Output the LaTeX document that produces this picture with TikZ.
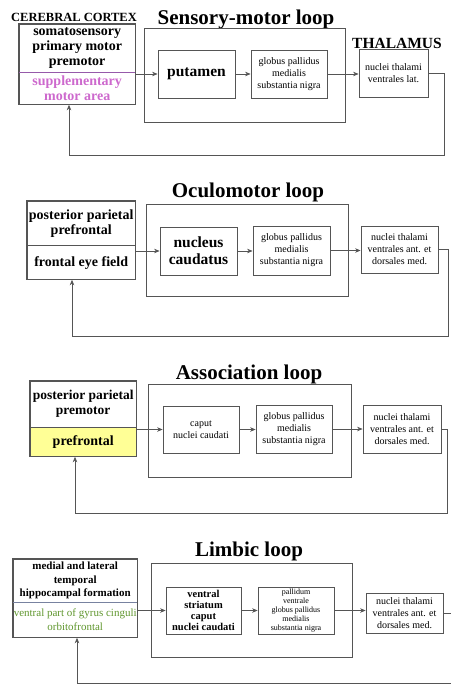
\documentclass[tikz,border=0pt]{standalone}
\usepackage{fontspec}
\setmainfont{Liberation Serif}
\usetikzlibrary{positioning,arrows.meta}

\definecolor{gris}{RGB}{85,85,85}
\definecolor{rosa}{RGB}{205,105,205}
\definecolor{lila}{RGB}{150,90,170}
\definecolor{verde}{RGB}{95,150,45}
\definecolor{azulgris}{RGB}{120,130,160}
\definecolor{amarillo}{RGB}{255,255,150}

\tikzset{
    titulo/.style={font=\bfseries\fontsize{21}{24}\selectfont},
    rotulo/.style={font=\bfseries\fontsize{12.5}{14}\selectfont},
    corteza/.style={inner sep=0pt,align=center,font=\bfseries\fontsize{14}{15}\selectfont},
    marco/.style={draw=gris,line width=1.3pt},
    ganglios/.style={draw=gris,line width=0.9pt,inner sep=0pt},
    nucleo/.style={draw=gris,line width=0.8pt,inner sep=1pt,align=center,font=\bfseries\fontsize{15.5}{17}\selectfont},
    chico/.style={draw=gris,line width=0.8pt,inner sep=1pt,align=center,font=\fontsize{10}{12}\selectfont},
    flecha/.style={draw=gris,line width=0.6pt,-{Stealth[length=5.5pt,width=4.5pt]}},
}

\begin{document}
\begin{tikzpicture}[x=1pt,y=-1pt]
\useasboundingbox (0,0) rectangle (450,687);

    %Lazo sensitivo-motor
    \node[titulo] (sm-tit) at (246,19) {Sensory-motor loop};
    \node[rotulo] (sm-cc) at (74,17) {CEREBRAL CORTEX};
    \node[corteza,minimum width=116pt,minimum height=48pt,anchor=north west] (sm-ctxa) at (19,24) {somatosensory\\primary motor\\premotor};
    \node[corteza,minimum width=116pt,minimum height=32pt,below=0pt of sm-ctxa,text=rosa] (sm-ctxb) {supplementary\\motor area};
    \draw[marco] (sm-ctxa.north west) rectangle (sm-ctxb.south east);
    \draw[lila,line width=0.8pt] (sm-ctxa.south west) -- (sm-ctxa.south east);
    \node[ganglios,minimum width=201pt,minimum height=94pt,anchor=north west] (sm-bg) at (144,28) {};
    \node[nucleo,minimum width=77pt,minimum height=48pt] (sm-put) at (196.5,74) {putamen};
    \node[chico,minimum width=76pt,minimum height=48pt] (sm-gp) at (289,74) {globus pallidus\\medialis\\substantia nigra};
    \node[rotulo,font=\bfseries\fontsize{15.5}{17}\selectfont] (sm-tl) at (397,43) {THALAMUS};
    \node[chico,minimum width=69pt,minimum height=48pt] (sm-th) at (393.5,73) {nuclei thalami\\ventrales lat.};
    \coordinate (sm-r) at (444,155);
    \coordinate (sm-in) at ([xshift=50pt]sm-ctxb.south west);

    %Lazo oculomotor
    \node[titulo] (oc-tit) at (248,192) {Oculomotor loop};
    \node[corteza,minimum width=108pt,minimum height=44pt,anchor=north west] (oc-ctxa) at (27,201) {posterior parietal\\prefrontal};
    \node[corteza,minimum width=108pt,minimum height=34pt,below=0pt of oc-ctxa] (oc-ctxb) {frontal eye field};
    \draw[marco] (oc-ctxa.north west) rectangle (oc-ctxb.south east);
    \draw[gris,line width=0.8pt] (oc-ctxa.south west) -- (oc-ctxa.south east);
    \node[ganglios,minimum width=202pt,minimum height=92pt,anchor=north west] (oc-bg) at (146,204) {};
    \node[nucleo,minimum width=77pt,minimum height=48pt] (oc-nc) at (198.5,251) {nucleus\\caudatus};
    \node[chico,minimum width=77pt,minimum height=49pt] (oc-gp) at (291.5,250.5) {globus pallidus\\medialis\\substantia nigra};
    \node[chico,minimum width=77pt,minimum height=47pt] (oc-th) at (399.5,249.5) {nuclei thalami\\ventrales ant. et\\dorsales med.};
    \coordinate (oc-r) at (448,336);
    \coordinate (oc-in) at ([xshift=45pt]oc-ctxb.south west);

    %Lazo de asociacion
    \node[titulo] (as-tit) at (249,374) {Association loop};
    \node[corteza,minimum width=106pt,minimum height=46pt,anchor=north west,font=\bfseries\fontsize{13.5}{15}\selectfont] (as-ctxa) at (30,381) {posterior parietal\\premotor};
    \node[corteza,minimum width=106pt,minimum height=29pt,below=0pt of as-ctxa,fill=amarillo] (as-ctxb) {prefrontal};
    \draw[marco] (as-ctxa.north west) rectangle (as-ctxb.south east);
    \draw[gris,line width=0.6pt] (as-ctxa.south west) -- (as-ctxa.south east);
    \node[ganglios,minimum width=203pt,minimum height=93pt,anchor=north west] (as-bg) at (148,384) {};
    \node[chico,minimum width=76pt,minimum height=47pt] (as-cap) at (201,429.5) {caput\\nuclei caudati};
    \node[chico,minimum width=76pt,minimum height=48pt] (as-gp) at (294,429) {globus pallidus\\medialis\\substantia nigra};
    \node[chico,minimum width=78pt,minimum height=48pt] (as-th) at (402,429) {nuclei thalami\\ventrales ant. et\\dorsales med.};
    \coordinate (as-r) at (447,513);
    \coordinate (as-in) at ([xshift=45pt]as-ctxb.south west);

    %Lazo limbico
    \node[titulo] (li-tit) at (249,551) {Limbic loop};
    \node[corteza,minimum width=124pt,minimum height=43pt,anchor=north west,font=\bfseries\fontsize{11}{13.5}\selectfont] (li-ctxa) at (13,559) {medial and lateral\\temporal\\hippocampal formation};
    \node[corteza,minimum width=124pt,minimum height=35pt,below=0pt of li-ctxa,text=verde,font=\fontsize{11}{14}\selectfont] (li-ctxb) {ventral part of gyrus cinguli\\orbitofrontal};
    \draw[marco] (li-ctxa.north west) rectangle (li-ctxb.south east);
    \draw[azulgris,line width=0.8pt] (li-ctxa.south west) -- (li-ctxa.south east);
    \node[ganglios,minimum width=201pt,minimum height=94pt,anchor=north west] (li-bg) at (151,563) {};
    \node[chico,minimum width=75pt,minimum height=47pt,font=\bfseries\fontsize{10.5}{11}\selectfont] (li-vs) at (203.5,610.5) {ventral\\striatum\\caput\\nuclei caudati};
    \node[chico,minimum width=76pt,minimum height=47pt,font=\fontsize{8}{9}\selectfont] (li-gp) at (296,610.5) {pallidum\\ventrale\\globus pallidus\\medialis\\substantia nigra};
    \node[chico,minimum width=77pt,minimum height=40pt] (li-th) at (404.5,613) {nuclei thalami\\ventrales ant. et\\dorsales med.};
    \coordinate (li-r) at (453,683);
    \coordinate (li-in) at ([xshift=64pt]li-ctxb.south west);

    %Flechas
    \draw[flecha] (sm-ctxb.east |- sm-put.west) -- (sm-put.west);
    \draw[flecha] (oc-ctxb.east |- oc-nc.west) -- (oc-nc.west);
    \draw[flecha] (as-ctxb.east |- as-cap.west) -- (as-cap.west);
    \draw[flecha] (li-ctxb.east |- li-vs.west) -- (li-vs.west);
    \foreach \a/\b in {sm-put/sm-gp,sm-gp/sm-th,oc-nc/oc-gp,oc-gp/oc-th,as-cap/as-gp,as-gp/as-th,li-vs/li-gp,li-gp/li-th}{
        \draw[flecha] (\a.east) -- (\b.west |- \a.east);
    }

    %Retorno al cortex
    \foreach \p in {sm,oc,as,li}{
        \draw[flecha] (\p-th.east) -| (\p-r) -| (\p-in);
    }
\end{tikzpicture}
\end{document}
